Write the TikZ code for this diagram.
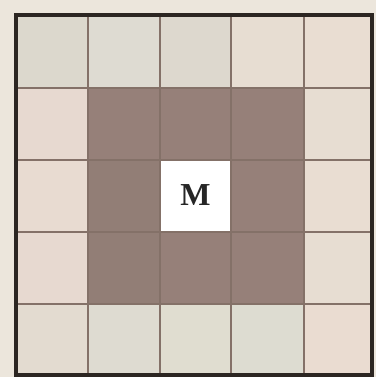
\documentclass[tikz,border=0pt]{standalone}
\usepackage{fontspec}
\setmainfont{Liberation Serif}
\definecolor{bg}{HTML}{ECE6DC}
\definecolor{ca}{HTML}{DCD8CD}
\definecolor{cb}{HTML}{DEDBD2}
\definecolor{cc}{HTML}{DDD8CE}
\definecolor{cd}{HTML}{E7DDD2}
\definecolor{ce}{HTML}{E9DDD2}
\definecolor{cf}{HTML}{E7D9D0}
\definecolor{cg}{HTML}{E8DBD1}
\definecolor{ch}{HTML}{E3DBD0}
\definecolor{ci}{HTML}{DEDBD1}
\definecolor{cj}{HTML}{E0DDD0}
\definecolor{ck}{HTML}{DDDCD1}
\definecolor{cl}{HTML}{EADCD1}
\definecolor{dk}{HTML}{968079}
\definecolor{dl}{HTML}{927E76}
\definecolor{gl}{HTML}{847168}
\definecolor{bd}{HTML}{2C2622}
\tikzset{cellline/.style={draw=gl,line width=2pt},
  border/.style={draw=bd,line width=4.5pt},
  label/.style={font=\fontsize{32}{32}\selectfont\bfseries,text=black!85}}
\begin{document}
\begin{tikzpicture}[x=1pt,y=-1pt]
\fill[bg] (0,0) rectangle (376,377);
\useasboundingbox (0,0) rectangle (376,377);
% column and row boundaries
\def\xs{{16,88,160,231,304,372}}
\def\ys{{15,88,160,232,304,375}}
% outer ring colours
\foreach \c/\col in {0/ca,1/cb,2/cc,3/cd,4/ce}{
  \pgfmathsetmacro\xa{\xs[\c]}\pgfmathsetmacro\xb{\xs[\c+1]}
  \fill[\col] (\xa,15) rectangle (\xb,88);
}
\foreach \c/\col in {0/ch,1/ci,2/cj,3/ck,4/cl}{
  \pgfmathsetmacro\xa{\xs[\c]}\pgfmathsetmacro\xb{\xs[\c+1]}
  \fill[\col] (\xa,304) rectangle (\xb,375);
}
\foreach \r/\col in {1/cf,2/cg,3/cf}{
  \pgfmathsetmacro\ya{\ys[\r]}\pgfmathsetmacro\yb{\ys[\r+1]}
  \fill[\col] (16,\ya) rectangle (88,\yb);
}
\foreach \r/\col in {1/cd,2/ce,3/cd}{
  \pgfmathsetmacro\ya{\ys[\r]}\pgfmathsetmacro\yb{\ys[\r+1]}
  \fill[\col] (304,\ya) rectangle (372,\yb);
}
% inner dark block
\fill[dk] (88,88) rectangle (304,304);
\fill[dl] (88,160) rectangle (160,304);
% centre cell
\fill[white] (160,160) rectangle (231,232);
% grid lines
\foreach \v in {88,160,231,304}{
  \draw[cellline] (\v,15) -- (\v,375);
}
\foreach \h in {88,160,232,304}{
  \draw[cellline] (16,\h) -- (372,\h);
}
% outer border
\draw[border] (16,15) rectangle (372,375);
\node[label] (m) at (195.5,195) {M};
\end{tikzpicture}
\end{document}
